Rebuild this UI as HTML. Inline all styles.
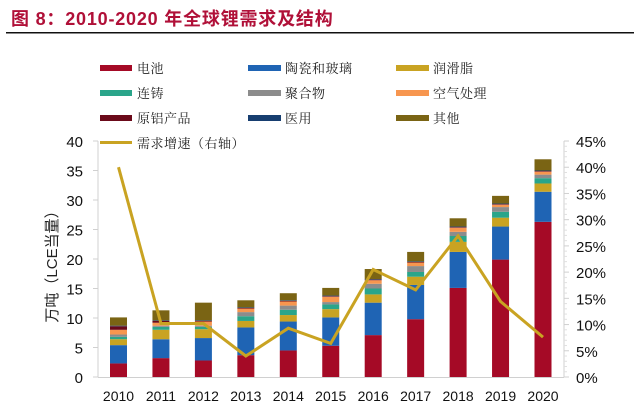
<!DOCTYPE html>
<html><head><meta charset="utf-8"><style>
html,body{margin:0;padding:0;background:#fff;}
body{width:640px;height:414px;overflow:hidden;position:relative;}
svg{position:absolute;left:0;top:0;}
.cn{font-family:"Liberation Serif","Noto Serif CJK SC","Noto Sans CJK SC",serif;font-size:13px;fill:#222;letter-spacing:0.5px;}
</style></head><body>
<svg width="640" height="414" xmlns="http://www.w3.org/2000/svg">
<text x="11" y="25" font-family="Liberation Sans,'Noto Sans CJK SC',sans-serif" font-weight="bold" font-size="18" letter-spacing="0.8" fill="#b01038">图 8：2010-2020 年全球锂需求及结构</text>
<rect x="6" y="32" width="628" height="1.5" fill="#111"/>
<g>
<rect x="100" y="65" width="32" height="6" fill="#a50a26"/><text class="cn" x="137" y="73">电池</text>
<rect x="248" y="65" width="33" height="6" fill="#1f64b4"/><text class="cn" x="285" y="73">陶瓷和玻璃</text>
<rect x="396" y="65" width="33" height="6" fill="#c9a322"/><text class="cn" x="433" y="73">润滑脂</text>
<rect x="100" y="90" width="32" height="6" fill="#2aa58a"/><text class="cn" x="137" y="98">连铸</text>
<rect x="248" y="90" width="33" height="6" fill="#8c8c8c"/><text class="cn" x="285" y="98">聚合物</text>
<rect x="396" y="90" width="33" height="6" fill="#f7964f"/><text class="cn" x="433" y="98">空气处理</text>
<rect x="100" y="115" width="32" height="6" fill="#6b0a1a"/><text class="cn" x="137" y="123">原铝产品</text>
<rect x="248" y="115" width="33" height="6" fill="#173e70"/><text class="cn" x="285" y="123">医用</text>
<rect x="396" y="115" width="33" height="6" fill="#7a6414"/><text class="cn" x="433" y="123">其他</text>
<rect x="100" y="141" width="32" height="3" fill="#c9a322"/><text class="cn" x="137" y="148">需求增速（右轴）</text>
</g>
<g stroke="#d0d0d0" stroke-width="1">
<line x1="98" y1="141" x2="98" y2="377"/>
<line x1="564" y1="141" x2="564" y2="377"/>
<line x1="98" y1="377.5" x2="564" y2="377.5"/>
</g>
<g id="dyn"></g>
<text transform="translate(57,263) rotate(-90)" text-anchor="middle" font-family="Liberation Sans,'Noto Sans CJK SC',sans-serif" font-size="15" fill="#222">万吨（LCE当量）</text>
</svg>
<script>
var s=document.getElementById('dyn');var ns="http://www.w3.org/2000/svg";
function el(t,a,txt){var e=document.createElementNS(ns,t);for(var k in a)e.setAttribute(k,a[k]);if(txt!==undefined)e.textContent=txt;s.appendChild(e);return e;}
var cols=["#a50a26","#1f64b4","#c9a322","#2aa58a","#8c8c8c","#f7964f","#6b0a1a","#173e70","#7a6414"];
var d=[[2.3,5.4,6.4,6.8,7.2,8.0,8.6,8.7,10.1],[3.2,6.4,8.0,8.5,8.7,9.2,9.5,9.6,11.3],[2.8,6.6,8.1,8.5,8.7,9.4,9.5,9.6,12.6],[3.7,8.4,9.5,10.3,11.0,11.6,11.7,11.8,13.0],[4.5,9.4,10.5,11.4,12.1,12.8,12.9,13.0,14.2],[5.3,10.1,11.5,12.3,12.7,13.6,13.7,13.8,15.1],[7.1,12.6,14.0,15.0,15.8,16.4,16.5,16.6,18.3],[9.8,15.6,17.0,17.8,18.8,19.4,19.5,19.6,21.2],[15.1,21.2,22.9,23.9,24.6,25.3,25.4,25.5,26.9],[19.9,25.5,27.0,28.0,28.8,29.2,29.3,29.4,30.7],[26.3,31.4,32.8,33.7,34.3,34.8,34.9,35.0,36.9]];
var g=[40,10.2,10.2,4.0,9.3,6.4,20.5,16.6,26.9,14.4,7.6];
function Y(v){return 377-v*5.9;}function P(p){return 377-p*5.244;}
for(var i=0;i<=8;i++){el('text',{x:83,y:Y(i*5)+6,'text-anchor':'end','font-family':'Liberation Sans,sans-serif','font-size':15,fill:'#111'},String(i*5));
el('line',{x1:93,x2:98,y1:Y(i*5),y2:Y(i*5),stroke:'#d0d0d0'});}
for(var i=0;i<=9;i++){el('text',{x:576,y:P(i*5)+6,'font-family':'Liberation Sans,sans-serif','font-size':15,fill:'#111'},(i*5)+'%');
el('line',{x1:564,x2:569,y1:P(i*5),y2:P(i*5),stroke:'#d0d0d0'});
if(i<9)for(var j=1;j<5;j++)el('line',{x1:564,x2:567,y1:P(i*5+j),y2:P(i*5+j),stroke:'#e0e0e0'});}
var pts=[];
for(var i=0;i<11;i++){var cx=118.5+i*42.45;var prev=0;
for(var k=0;k<9;k++){var v=d[i][k];if(v>prev)el('rect',{x:cx-8.5,y:Y(v),width:17,height:Y(prev)-Y(v),fill:cols[k]});prev=v;}
el('text',{x:cx,y:401,'text-anchor':'middle','font-family':'Liberation Sans,sans-serif','font-size':14,fill:'#111'},String(2010+i));
pts.push(cx+','+P(g[i]).toFixed(1));}
el('polyline',{points:pts.join(' '),fill:'none',stroke:'#c9a322','stroke-width':3});
</script>
</body></html>
